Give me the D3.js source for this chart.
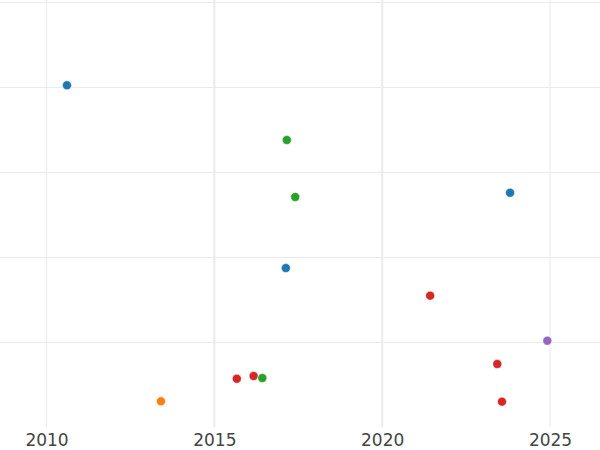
<!DOCTYPE html>
<html><head><meta charset="utf-8">
<script src="https://cdn.jsdelivr.net/npm/d3@7"></script>
<style>body{margin:0;background:#fff}svg{display:block}</style>
</head><body><div id="chart"></div>
<script>
const years  = [2010.61, 2017.16, 2017.41, 2023.81, 2017.13, 2013.41, 2015.67, 2016.17, 2016.43, 2021.43, 2024.92, 2023.43, 2023.57];
const values = [4.026, 3.382, 2.712, 2.762, 1.876, 0.308, 0.574, 0.606, 0.582, 1.551, 1.021, 0.747, 0.304];
const groups = ["A","C","C","A","A","B","D","D","C","D","E","D","D"];
const groupNames = ["A","B","C","D","E"];
const groupColors = ["#1f77b4","#ff7f0e","#2ca02c","#d62728","#9467bd"];
const xTicks = [2010, 2015, 2020, 2025];
const yTicks = [1, 2, 3, 4, 5];

const W = 600, H = 450;
const svg = d3.select("#chart").append("svg").attr("width", W).attr("height", H);
const x = d3.scaleLinear().domain([2010, 2025]).range([46.5, 550]);
const y = d3.scaleLinear().domain([0, 5]).range([427.5, 2.5]);
const color = d3.scaleOrdinal().domain(groupNames).range(groupColors);

svg.append("g").selectAll("line").data(yTicks).join("line")
  .attr("x1", 0).attr("x2", W)
  .attr("y1", d => y(d)).attr("y2", d => y(d))
  .attr("stroke", "#ebebeb").attr("stroke-width", 1.2);

svg.append("g").selectAll("line").data(xTicks).join("line")
  .attr("x1", d => x(d)).attr("x2", d => x(d))
  .attr("y1", 0).attr("y2", 427)
  .attr("stroke", "#ebebeb")
  .attr("stroke-width", d => (d === 2015 || d === 2020) ? 2 : 1.2);

const xAxis = d3.axisBottom(x).tickValues(xTicks).tickFormat(d3.format("d")).tickSize(0).tickPadding(0);
const gx = svg.append("g").attr("transform", "translate(0,431)").call(xAxis);
gx.select(".domain").remove();
gx.selectAll("text").attr("font-family", "DejaVu Sans").attr("font-size", 17)
  .attr("fill", "#444").attr("dy", "0.9em");

svg.append("g").selectAll("circle").data(years.map((yr, i) => ({yr, v: values[i], g: groups[i]})))
  .join("circle")
  .attr("cx", d => x(d.yr)).attr("cy", d => y(d.v)).attr("r", 4.5)
  .attr("fill", d => color(d.g)).attr("stroke", "#fff").attr("stroke-width", 0.5);
</script></body></html>
